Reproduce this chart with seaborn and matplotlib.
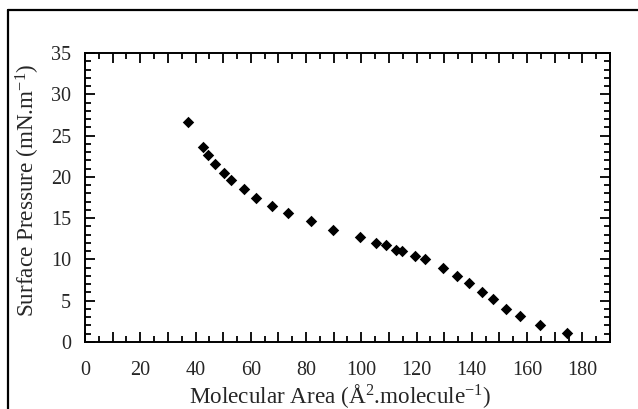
import numpy as np
import pandas as pd
import seaborn as sns
import matplotlib.pyplot as plt
from matplotlib.ticker import MultipleLocator, FuncFormatter
from matplotlib.lines import Line2D

# isotherm points
area = [37.3, 42.8, 44.5, 47.2, 50.3, 52.9, 57.7, 61.8, 67.7, 73.3,
        81.9, 89.9, 99.4, 105.3, 109.1, 112.4, 114.6, 119.3, 123.0, 129.4,
        134.5, 139.0, 143.6, 147.8, 152.3, 157.4, 164.7, 174.6]
pressure = [26.6, 23.6, 22.6, 21.6, 20.5, 19.6, 18.5, 17.5, 16.5, 15.6,
            14.7, 13.6, 12.7, 12.05, 11.7, 11.15, 11.0, 10.4, 10.1, 9.0,
            7.96, 7.1, 6.06, 5.26, 4.05, 3.2, 2.1, 1.05]

df = pd.DataFrame({"area": area, "pressure": pressure})

sns.set_style("white")
plt.rcParams['font.family'] = ['Liberation Serif', 'DejaVu Serif']
plt.rcParams['mathtext.fontset'] = 'custom'
plt.rcParams['mathtext.rm'] = 'Liberation Serif'
plt.rcParams['mathtext.it'] = 'Liberation Serif:italic'

fig = plt.figure(figsize=(6.38, 4.09), dpi=100)
ax = fig.add_axes([0.1332, 0.1638, 0.8229, 0.7066])

sns.scatterplot(data=df, x="area", y="pressure", marker="D", color="black",
                s=34, edgecolor="black", linewidth=0, ax=ax)

ax.set_xlim(0, 190)
ax.set_ylim(0, 35)
ax.xaxis.set_major_locator(MultipleLocator(10))
ax.xaxis.set_minor_locator(MultipleLocator(5))
ax.xaxis.set_major_formatter(FuncFormatter(lambda v, p: f"{int(v)}" if int(round(v)) % 20 == 0 else ""))
ax.yaxis.set_major_locator(MultipleLocator(5))
ax.yaxis.set_minor_locator(MultipleLocator(1))

for side in ax.spines.values():
    side.set_linewidth(1.4)
    side.set_color("black")

ax.tick_params(which="both", direction="in", top=True, right=True,
               bottom=True, left=True, width=1.3, color="black")
ax.tick_params(which="major", length=7.5, labelsize=14.5)
ax.tick_params(which="minor", length=4)
ax.tick_params(axis="x", which="major", pad=14)
ax.tick_params(axis="y", which="major", pad=10)

ax.set_xlabel("Molecular Area (Å$^{2}$.molecule$^{-1}$)", fontsize=16.7)
ax.set_ylabel("Surface Pressure (mN.m$^{-1}$)", fontsize=16.7)
ax.xaxis.set_label_coords(0.486, -0.14)
ax.yaxis.set_label_coords(-0.082, 0.526)

# partial outer frame of the scanned figure
fig.add_artist(Line2D([8 / 638, 1.0], [1 - 10 / 409, 1 - 10 / 409],
                      transform=fig.transFigure, color="black", lw=1.6))
fig.add_artist(Line2D([8 / 638, 8 / 638], [0, 1 - 10 / 409],
                      transform=fig.transFigure, color="black", lw=1.6))

fig.savefig("out.png", dpi=100)
